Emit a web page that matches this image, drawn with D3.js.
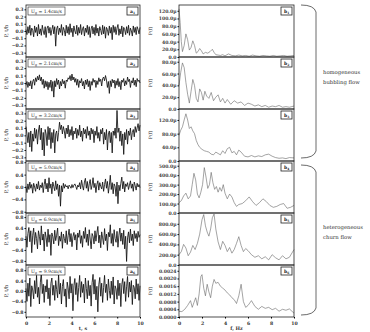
<!DOCTYPE html>
<html><head><meta charset="utf-8">
<script src="https://cdn.jsdelivr.net/npm/d3@7"></script>
<style>body{margin:0;background:#fff}svg{display:block}text{font-family:"DejaVu Serif","Liberation Serif",serif}</style>
</head><body><svg id="c" width="370" height="332"></svg>
<script>
const speeds = ["1.4","2.1","3.2","5.0","6.9","9.9"];
const tsLabels = ["a1","a2","a3","a4","a5","a6"];
const psdLabels = ["b1","b2","b3","b4","b5","b6"];
const timeTicks = [0,2,4,6,8,10];
const freqTicks = [0,2,4,6,8,10];
const leftTicks = [[-0.3,-0.2,-0.1,0.0,0.1,0.2,0.3],[-0.3,-0.2,-0.1,0.0,0.1,0.2,0.3],[-0.3,-0.2,-0.1,0.0,0.1,0.2,0.3],[-0.8,-0.4,0.0,0.4,0.8],[-0.8,-0.4,0.0,0.4,0.8],[-0.8,-0.4,0.0,0.4,0.8]];
const leftDomains = [[-0.36,0.36],[-0.35,0.35],[-0.35,0.36],[-0.84,0.84],[-0.95,0.95],[-1.0,1.0]];
const rightTicks = [[0,20,40,60,80,100,120],[0,20,40,60,80],[0,40,80,120],[0,100,200,300,400,500],[0,200,400,600,800],[0,0.0004,0.0008,0.0012,0.0016,0.0020,0.0024]];
const rightDomains = [[0,135],[0,88],[0,152],[0,550],[0,1010],[0,0.0027]];

const ts1 = [0.02,-0.05,0.06,-0.03,0.08,-0.06,0.04,0.01,-0.08,0.07,-0.02,0.05,-0.07,0.09,-0.04,0.03,-0.06,0.08,0.00,-0.05,0.06,-0.09,0.04,0.07,-0.03,0.05,-0.06,0.02,0.08,-0.04,0.06,-0.21,0.03,0.07,-0.05,0.04,-0.02,0.09,-0.06,0.05,0.01,-0.07,0.08,-0.03,0.06,-0.05,0.10,-0.02,0.04,-0.08,0.07,0.00,-0.04,0.08,-0.06,0.05,-0.03,0.09,-0.05,0.03,0.06,-0.07,0.04,-0.02,0.08,-0.05,0.06,-0.09,0.03,0.07,-0.04,0.05,-0.06,0.09,-0.03,0.04,-0.07,0.06,0.01,-0.05,0.08,-0.04,0.06,-0.10,0.05,0.02,-0.06,0.07,-0.03,0.05,-0.12,0.08,-0.02,0.06,-0.05,0.04,0.09,-0.06,0.03,-0.04,0.07,-0.08,0.05,0.02,-0.05,0.06,-0.03,0.08,-0.06,0.04,0.00,-0.07,0.07,-0.02,0.05,-0.05,0.06,0.02,-0.04,0.05];
const ts2 = [-0.03,0.02,-0.06,0.01,-0.04,0.03,-0.08,0.02,0.05,-0.03,0.07,0.02,0.09,0.04,0.11,0.03,0.08,-0.02,0.05,-0.07,0.03,-0.05,0.02,-0.09,0.01,-0.06,0.04,-0.11,0.02,-0.19,0.03,-0.05,0.06,-0.02,0.04,-0.08,0.02,-0.04,0.05,-0.01,0.03,-0.07,0.04,0.02,0.07,0.05,0.10,0.03,0.12,0.04,0.08,0.01,0.06,-0.03,0.05,-0.06,0.03,0.00,0.06,-0.04,0.02,-0.08,0.04,-0.02,0.05,-0.05,0.03,-0.10,0.02,-0.03,0.06,0.01,0.04,-0.06,0.03,-0.02,0.07,0.02,0.05,-0.04,0.06,0.08,0.03,0.10,0.04,-0.06,0.02,-0.14,0.03,-0.05,0.05,0.00,0.04,-0.07,0.03,-0.03,0.06,-0.05,0.02,-0.09,0.04,0.01,0.06,-0.04,0.03,-0.02,0.08,0.02,0.05,-0.06,0.03,0.00,0.07,-0.03,0.04,-0.05,0.06,0.02,0.04,0.00];
const ts3 = [0.12,0.02,-0.10,0.04,-0.16,0.06,-0.22,0.02,-0.08,0.10,-0.04,0.08,-0.12,0.06,0.14,-0.06,0.10,-0.20,0.04,-0.28,0.08,0.02,-0.14,0.12,-0.06,0.10,-0.18,0.04,-0.10,0.08,-0.24,0.02,0.06,-0.08,0.04,0.18,0.08,0.14,0.02,0.12,0.06,-0.04,0.10,0.02,0.14,-0.02,0.08,0.00,0.12,-0.06,0.06,0.02,0.10,-0.04,0.08,0.00,0.14,-0.02,0.06,-0.08,0.10,0.02,0.08,-0.04,0.12,0.00,0.06,-0.06,0.10,0.02,0.08,-0.10,0.06,0.00,0.12,-0.04,0.04,-0.08,0.08,0.02,0.10,-0.12,0.04,-0.06,0.08,-0.20,0.02,0.06,-0.10,0.04,-0.24,0.06,0.00,0.10,-0.04,0.34,0.04,0.10,-0.08,0.06,-0.14,0.02,-0.26,0.04,-0.06,0.08,-0.12,0.06,0.00,0.10,-0.06,0.04,0.08,-0.02,0.12,0.04,0.10,0.16,0.06,0.14];
const ts4 = [0.02,-0.18,0.10,-0.08,0.16,-0.04,0.08,-0.20,0.12,0.00,-0.14,0.10,-0.06,0.18,-0.10,0.06,-0.02,0.14,-0.18,0.08,0.26,-0.06,0.12,-0.16,0.30,-0.04,0.10,-0.22,0.16,0.02,-0.12,0.20,-0.08,0.10,-0.30,0.06,-0.62,0.04,-0.16,0.12,-0.04,0.08,0.00,0.04,-0.06,0.06,0.02,-0.04,0.08,-0.02,0.06,0.10,0.02,-0.08,0.06,0.00,0.14,-0.06,0.22,0.04,-0.10,0.16,0.28,-0.04,0.18,-0.14,0.10,0.24,-0.08,0.06,0.30,-0.02,0.12,-0.18,0.08,0.20,-0.10,0.14,0.02,-0.06,0.16,-0.14,0.08,0.26,-0.04,0.18,-0.20,0.06,0.38,-0.08,0.14,-0.22,0.10,0.02,-0.30,0.16,-0.54,0.06,-0.12,0.12,0.32,-0.06,0.18,-0.16,0.10,0.02,0.14,-0.08,0.06,0.20,-0.04,0.10,-0.14,0.16,0.04,-0.10,0.12,0.00,0.08,-0.02];
const ts5 = [0.10,-0.30,0.20,0.42,-0.10,0.30,-0.50,0.14,0.40,-0.20,0.24,0.02,-0.36,0.30,0.10,-0.22,0.48,-0.04,0.18,-0.44,0.26,0.06,-0.28,0.36,-0.12,0.16,-0.60,0.22,0.08,-0.18,0.32,-0.06,0.14,0.40,-0.24,0.10,-0.08,0.26,-0.34,0.18,0.02,-0.14,0.30,-0.20,0.12,0.36,-0.10,0.20,-0.28,0.08,0.24,-0.04,0.16,-0.40,0.22,0.06,0.32,-0.16,0.12,-0.30,0.28,0.02,0.42,-0.12,0.18,-0.24,0.34,0.00,-0.36,0.20,0.10,-0.18,0.30,-0.08,0.22,0.46,-0.14,0.14,-0.32,0.26,0.04,-0.20,0.38,-0.06,0.18,-0.42,0.24,0.08,0.52,-0.16,0.20,-0.26,0.34,0.02,-0.12,0.28,-0.30,0.14,0.40,-0.08,0.22,-0.20,0.32,-0.36,0.10,-0.82,0.04,0.26,-0.14,0.36,-0.06,0.18,-0.24,0.30,0.02,0.20,-0.10,0.28,0.06,0.16];
const ts6 = [0.10,-0.40,0.30,-0.20,0.50,-0.60,0.20,0.04,-0.30,0.40,-0.10,0.60,-0.24,0.14,-0.50,0.34,0.70,-0.10,0.26,-0.44,0.20,-0.04,0.44,-0.30,0.12,-0.56,0.30,0.50,-0.16,0.22,-0.36,0.40,0.06,-0.26,0.64,-0.12,0.30,-0.50,0.18,0.44,-0.20,0.08,-0.62,0.34,0.12,-0.30,0.56,-0.08,0.28,-0.76,0.20,0.48,-0.14,0.32,-0.40,0.14,0.60,-0.24,0.36,-0.06,0.26,-0.46,0.50,0.10,-0.30,0.40,-0.18,0.22,-0.58,0.32,0.64,-0.12,0.44,-0.34,0.18,-0.80,0.24,0.52,-0.20,0.30,-0.44,0.14,0.60,-0.06,0.26,-0.36,0.46,0.02,-0.28,0.38,-0.14,0.54,-0.50,0.20,0.08,-0.32,0.42,-0.18,0.30,-0.60,0.24,0.48,-0.10,0.36,-0.40,0.16,0.56,-0.24,0.34,-0.04,0.40,-0.52,0.22,0.14,-0.30,0.46,-0.12,0.28,-0.36,0.20];

const psdF1 = [0,0.1,0.2,0.3,0.45,0.6,0.75,0.9,1.05,1.2,1.35,1.5,1.65,1.8,1.95,2.1,2.3,2.5,2.7,2.9,3.05,3.2,3.4,3.6,3.8,4.0,4.3,4.6,4.9,5.2,5.5,5.8,6.1,6.4,6.7,7.0,7.3,7.6,7.9,8.2,8.5,8.8,9.1,9.4,9.7,10];
const psd1 = [125,90,40,14,30,60,45,18,25,42,30,10,14,22,16,8,12,10,14,20,12,6,5,4,6,3,8,4,3,5,3,4,2,5,3,2,4,3,2,4,2,3,4,2,3,4];
const psdF2 = [0,0.15,0.3,0.45,0.6,0.75,0.9,1.05,1.2,1.35,1.5,1.65,1.8,1.95,2.1,2.25,2.4,2.6,2.8,3.0,3.2,3.4,3.6,3.8,4.0,4.2,4.5,4.8,5.1,5.4,5.7,6.0,6.3,6.6,6.9,7.2,7.5,7.8,8.1,8.4,8.7,9.0,9.3,9.6,10];
const psd2 = [40,62,78,70,45,25,10,30,50,40,18,12,34,28,15,30,22,18,28,14,20,24,12,18,10,16,8,14,10,12,6,10,8,5,7,4,6,3,5,4,6,3,4,3,5];
const psdF3 = [0,0.15,0.3,0.45,0.6,0.75,0.9,1.05,1.2,1.35,1.5,1.65,1.8,2.0,2.2,2.4,2.6,2.8,3.0,3.2,3.4,3.6,3.8,4.0,4.2,4.4,4.6,4.8,5.0,5.2,5.4,5.7,6.0,6.3,6.6,6.9,7.2,7.5,7.8,8.1,8.4,8.7,9.0,9.3,9.6,10];
const psd3 = [75,90,100,120,138,120,95,100,88,80,60,48,40,34,30,28,26,20,18,26,22,18,30,22,36,40,24,28,18,32,26,14,12,16,12,15,13,18,20,14,10,8,9,7,10,9];
const psdF4 = [0,0.2,0.4,0.6,0.8,1.0,1.15,1.3,1.45,1.6,1.75,1.9,2.05,2.2,2.35,2.5,2.65,2.8,2.95,3.1,3.25,3.4,3.55,3.7,3.85,4.0,4.2,4.4,4.6,4.8,5.0,5.2,5.5,5.8,6.1,6.4,6.7,7.0,7.3,7.6,7.9,8.2,8.5,8.8,9.1,9.4,9.7,10];
const psd4 = [110,130,180,210,150,180,300,420,350,200,160,220,300,480,380,260,300,430,320,250,280,220,270,230,300,210,150,200,170,110,70,90,100,130,170,120,80,110,150,120,80,60,70,90,100,50,60,80];
const psdF5 = [0,0.2,0.4,0.6,0.8,1.0,1.2,1.4,1.6,1.8,2.0,2.15,2.3,2.45,2.6,2.75,2.9,3.05,3.2,3.4,3.6,3.8,4.0,4.2,4.4,4.6,4.8,5.0,5.2,5.4,5.6,5.8,6.0,6.3,6.6,6.9,7.2,7.5,7.8,8.1,8.4,8.7,9.0,9.3,9.6,10];
const psd5 = [200,260,400,330,180,250,380,300,420,600,880,980,760,640,560,700,920,990,700,450,300,460,380,260,340,230,300,420,550,380,260,320,280,200,150,180,120,160,100,200,140,100,180,120,150,300];
const psdF6 = [0,0.25,0.5,0.75,1.0,1.15,1.3,1.45,1.6,1.75,1.9,2.0,2.15,2.3,2.45,2.6,2.75,2.9,3.05,3.2,3.4,3.6,3.8,4.0,4.2,4.4,4.6,4.8,5.0,5.2,5.4,5.6,5.8,6.0,6.3,6.6,6.9,7.2,7.5,7.8,8.1,8.4,8.7,9.0,9.3,9.6,10];
const psd6 = [0.00030,0.00028,0.00040,0.00060,0.00085,0.00050,0.00075,0.00100,0.00060,0.00120,0.00210,0.00220,0.00150,0.00110,0.00170,0.00130,0.00100,0.00160,0.00195,0.00175,0.00180,0.00160,0.00150,0.00140,0.00125,0.00115,0.00100,0.00090,0.00070,0.00110,0.00170,0.00080,0.00050,0.00060,0.00085,0.00055,0.00040,0.00055,0.00045,0.00050,0.00038,0.00045,0.00030,0.00040,0.00035,0.00042,0.00020];

const tsData = [ts1,ts2,ts3,ts4,ts5,ts6];
const psdData = [[psdF1,psd1],[psdF2,psd2],[psdF3,psd3],[psdF4,psd4],[psdF5,psd5],[psdF6,psd6]];

const svg = d3.select("#c");
const top0 = 5, rowH = 52;
const Lx = [26,140], Rx = [179,294];
const fs = 4.6;

function fmtLeft(v){ return d3.format(".1f")(v); }
function fmtRight(i,v){ if(i===5) return d3.format(".4f")(v); if(v===0) return "0.0"; return d3.format(".1f")(v)+"µ"; }

for(let i=0;i<6;i++){
  const y0 = top0 + i*rowH, y1 = y0 + rowH;
  // left panel
  const x = d3.scaleLinear().domain([0,10]).range(Lx);
  const y = d3.scaleLinear().domain(leftDomains[i]).range([y1,y0]);
  const g = svg.append("g");
  const arr = tsData[i];
  const line = d3.line().x((d,k)=>x(k*10/(arr.length-1))).y(d=>y(d));
  g.append("path").datum(arr).attr("d",line).attr("fill","none").attr("stroke","#111").attr("stroke-width",0.85);
  const ay = d3.axisLeft(y).tickValues(leftTicks[i]).tickSize(1.5).tickFormat(fmtLeft);
  const ga = g.append("g").attr("transform",`translate(${Lx[0]},0)`).call(ay);
  ga.select(".domain").remove();
  ga.selectAll("text").attr("font-size",fs).attr("font-weight","bold").attr("fill","#333").attr("x",-2.5);
  g.append("rect").attr("x",Lx[0]).attr("y",y0).attr("width",Lx[1]-Lx[0]).attr("height",rowH).attr("fill","none").attr("stroke","#222").attr("stroke-width",0.8);
  // Ug box
  const ug = g.append("g").attr("transform",`translate(${Lx[0]+2},${y0+2})`);
  ug.append("rect").attr("width",37).attr("height",8).attr("fill","#fff").attr("stroke","#222").attr("stroke-width",0.6);
  const tt = ug.append("text").attr("x",3).attr("y",6).attr("font-size",4.6).attr("fill","#222");
  tt.append("tspan").text("U");
  tt.append("tspan").attr("font-size",3.2).attr("dy",1).text("g");
  tt.append("tspan").attr("dy",-1).text(" = "+speeds[i]+"cm/s");
  // badge
  const bg = g.append("g").attr("transform",`translate(${Lx[1]-13},${y0+2})`);
  bg.append("rect").attr("width",11).attr("height",8).attr("fill","#fff").attr("stroke","#222").attr("stroke-width",0.8);
  const bt = bg.append("text").attr("x",3).attr("y",5.8).attr("font-size",4.5).attr("font-weight","bold").attr("fill","#222");
  bt.append("tspan").text(tsLabels[i][0]);
  bt.append("tspan").attr("font-size",3).attr("dy",1).text(tsLabels[i][1]);
  // y label
  svg.append("text").attr("transform",`translate(8,${(y0+y1)/2}) rotate(-90)`).attr("text-anchor","middle").attr("font-size",5).attr("fill","#333").text("P, t/h");

  // right panel
  const xr = d3.scaleLinear().domain([0,10]).range(Rx);
  const yr = d3.scaleLinear().domain(rightDomains[i]).range([y1,y0]);
  const gr = svg.append("g");
  const [fx,pv] = psdData[i];
  const pts = fx.map((f,k)=>[f,pv[k]]);
  gr.append("path").datum(pts).attr("d",d3.line().x(d=>xr(d[0])).y(d=>yr(d[1]))).attr("fill","none").attr("stroke","#666").attr("stroke-width",0.6);
  const ayr = d3.axisLeft(yr).tickValues(rightTicks[i]).tickSize(1.5).tickFormat(v=>fmtRight(i,v));
  const gar = gr.append("g").attr("transform",`translate(${Rx[0]},0)`).call(ayr);
  gar.select(".domain").remove();
  gar.selectAll("text").attr("font-size",fs).attr("font-weight","bold").attr("fill","#444").attr("x",-2.5);
  gr.append("rect").attr("x",Rx[0]).attr("y",y0).attr("width",Rx[1]-Rx[0]).attr("height",rowH).attr("fill","none").attr("stroke","#222").attr("stroke-width",0.8);
  const bg2 = gr.append("g").attr("transform",`translate(${Rx[1]-13},${y0+2})`);
  bg2.append("rect").attr("width",11).attr("height",8).attr("fill","#fff").attr("stroke","#222").attr("stroke-width",0.8);
  const bt2 = bg2.append("text").attr("x",3).attr("y",5.8).attr("font-size",4.5).attr("font-weight","bold").attr("fill","#222");
  bt2.append("tspan").text(psdLabels[i][0]);
  bt2.append("tspan").attr("font-size",3).attr("dy",1).text(psdLabels[i][1]);
  svg.append("text").attr("transform",`translate(152,${(y0+y1)/2}) rotate(-90)`).attr("text-anchor","middle").attr("font-size",4.6).attr("fill","#333").text("P(f)");

  if(i===5){
    const ax = d3.axisBottom(x).tickValues(timeTicks).tickSize(1.5).tickFormat(d3.format("d"));
    const gx = svg.append("g").attr("transform",`translate(0,${y1})`).call(ax);
    gx.select(".domain").remove();
    gx.selectAll("text").attr("font-size",fs).attr("font-weight","bold").attr("fill","#333").attr("y",5);
    const axr = d3.axisBottom(xr).tickValues(freqTicks).tickSize(1.5).tickFormat(d3.format("d"));
    const gxr = svg.append("g").attr("transform",`translate(0,${y1})`).call(axr);
    gxr.select(".domain").remove();
    gxr.selectAll("text").attr("font-size",fs).attr("font-weight","bold").attr("fill","#333").attr("y",5);
    svg.append("text").attr("x",(Lx[0]+Lx[1])/2).attr("y",330).attr("text-anchor","middle").attr("font-size",4.8).attr("font-weight","bold").attr("fill","#333").text("t, s");
    svg.append("text").attr("x",(Rx[0]+Rx[1])/2).attr("y",330).attr("text-anchor","middle").attr("font-size",4.8).attr("font-weight","bold").attr("fill","#333").text("f, Hz");
  }
}
// braces
function brace(ya, yb){
  const xa = 301, xb = 316, r = 7;
  const p = `M${xa},${ya} Q${xb-2},${ya} ${xb},${ya+r} L${xb},${yb-r} Q${xb-2},${yb} ${xa},${yb}`;
  svg.append("path").attr("d",p).attr("fill","none").attr("stroke","#444").attr("stroke-width",0.8);
}
brace(5,158); brace(165,315);
const groups = [["homogeneous","bubbling flow",74],["heterogeneous","churn flow",229]];
groups.forEach(([a,b,yy])=>{
  svg.append("text").attr("x",323).attr("y",yy).attr("font-size",5.3).attr("fill","#333").text(a);
  svg.append("text").attr("x",323).attr("y",yy+10).attr("font-size",5.3).attr("fill","#333").text(b);
});
</script></body></html>
